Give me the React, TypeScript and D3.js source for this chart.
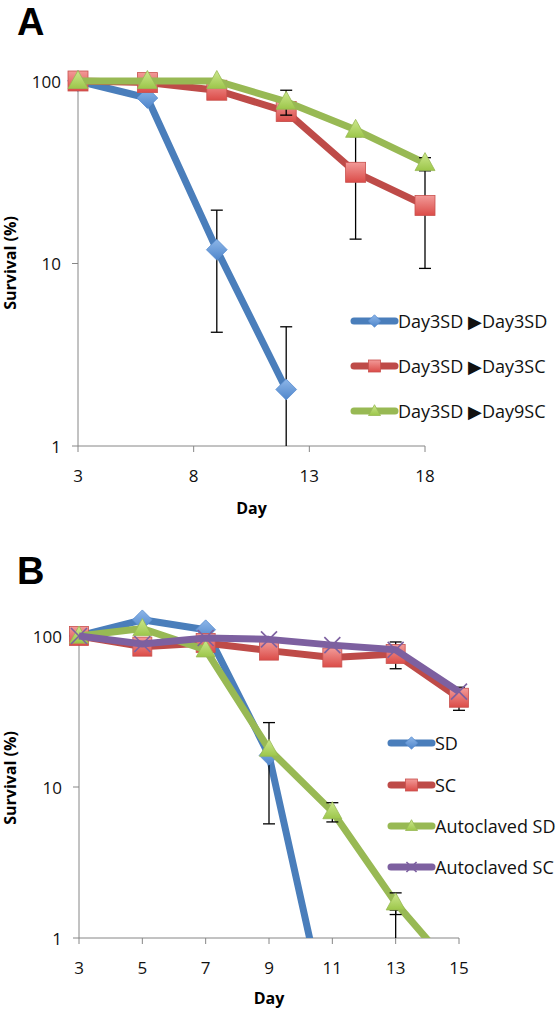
import React from 'react';
import * as d3 from 'd3';

// ---------- Data ----------
const daysA = [3, 6, 9, 12, 15, 18];
const namesA = ['Day3SD \u25B6Day3SD', 'Day3SD \u25B6Day3SC', 'Day3SD \u25B6Day9SC'];
const a_sd_sd = [100, 80.7, 11.9, 2.04];
const a_sd_sd_err = [0, 3, 7.7, 2.46];
const a_sd_3sc = [100, 98, 89, 68, 31.6, 20.8];
const a_sd_3sc_err = [0, 0, 0, 7.4, 18, 11.4];
const a_sd_9sc = [100, 100, 100, 77, 54, 35.5];
const a_sd_9sc_err = [0, 0, 0, 12, 0, 2.5];
const xTicksA = [3, 8, 13, 18];

const daysB = [3, 5, 7, 9, 11, 13, 15];
const namesB = ['SD', 'SC', 'Autoclaved SD', 'Autoclaved SC'];
const b_sd = [100, 128, 110, 16.2, 0.21, 0.05];
const b_sd_err = [0, 0, 0, 10.5, 0, 1.48];
const b_sc = [100, 85, 90, 80, 72, 76, 39];
const b_sc_err = [0, 0, 0, 0, 0, 15.3, 6.8];
const b_asd = [100, 112, 81, 17.8, 6.87, 1.71, 0.56];
const b_asd_err = [0, 0, 0, 0, 1, 0.28, 0];
const b_asc = [100, 88.5, 97, 95, 87, 81, 42.8];
const b_asc_err = [0, 0, 0, 0, 0, 0, 0];
const xTicksB = [3, 5, 7, 9, 11, 13, 15];

const yTicks = [1, 10, 100];

// ---------- Styles ----------
const FONT = "'Open Sans', sans-serif";
const LINE_BLUE = '#4A7EBB';
const LINE_RED = '#BE4B48';
const LINE_GREEN = '#98B954';
const LINE_PURPLE = '#7D60A0';
const AXIS = '#868686';

type MarkerKind = 'diamond' | 'square' | 'triangle' | 'x';
interface Series {
  name: string;
  values: number[];
  err: number[];
  color: string;
  marker: MarkerKind;
}

function Marker({ kind, cx, cy, s }: { kind: MarkerKind; cx: number; cy: number; s: number }) {
  if (kind === 'diamond') {
    const h = s * 0.52;
    return (
      <path
        d={`M${cx},${cy - h}L${cx + h},${cy}L${cx},${cy + h}L${cx - h},${cy}Z`}
        fill="url(#gBlue)"
        stroke="#5B8ED0"
        strokeWidth={0.8}
      />
    );
  }
  if (kind === 'square') {
    const h = s * 0.5;
    return (
      <rect x={cx - h} y={cy - h} width={2 * h} height={2 * h} fill="url(#gRed)" stroke="#C9514E" strokeWidth={0.8} />
    );
  }
  if (kind === 'triangle') {
    const h = s * 0.5;
    return (
      <path
        d={`M${cx},${cy - h * 1.05}L${cx + h},${cy + h * 0.75}L${cx - h},${cy + h * 0.75}Z`}
        fill="url(#gGreen)"
        stroke="#98B954"
        strokeWidth={0.8}
      />
    );
  }
  const h = s * 0.42;
  return (
    <g stroke="#7D60A0" strokeWidth={1.6}>
      <line x1={cx - h} y1={cy - h} x2={cx + h} y2={cy + h} />
      <line x1={cx - h} y1={cy + h} x2={cx + h} y2={cy - h} />
    </g>
  );
}

interface PanelProps {
  id: string;
  letter: string;
  letterY: number;
  days: number[];
  series: Series[];
  xDomain: [number, number];
  xRange: [number, number];
  yRange: [number, number];
  xTicks: number[];
  legendX: number;
  legendYs: number[];
  titleY: number;
  ylabelY: number;
  markerSize: number;
}

function Panel(p: PanelProps) {
  const x = d3.scaleLinear().domain(p.xDomain).range(p.xRange);
  const y = d3.scaleLog().domain([1, 100]).range(p.yRange);
  const axisY = p.yRange[0];
  const topY = p.yRange[1];
  const left = p.xRange[0];
  const right = p.xRange[1];
  const line = d3
    .line<[number, number]>()
    .x((d) => x(d[0]))
    .y((d) => y(Math.max(d[1], 0.001)));
  const clip = `clip-${p.id}`;
  return (
    <g>
      <defs>
        <clipPath id={clip}>
          <rect x={left - 30} y={topY - 40} width={right - left + 60} height={axisY - topY + 40} />
        </clipPath>
      </defs>
      <text x={17} y={p.letterY} fontFamily="'Liberation Sans', Arial, sans-serif" fontWeight="bold" fontSize={38}>
        {p.letter}
      </text>
      {/* axes */}
      <line x1={left} y1={topY} x2={left} y2={axisY} stroke={AXIS} strokeWidth={1} />
      <line x1={left} y1={axisY} x2={right} y2={axisY} stroke={AXIS} strokeWidth={1} />
      {yTicks.map((t) => (
        <g key={`y${t}`}>
          <line x1={left - 6} y1={y(t)} x2={left} y2={y(t)} stroke={AXIS} strokeWidth={1} />
          <text x={left - 17} y={y(t)} textAnchor="end" dominantBaseline="central" fontFamily={FONT} fontSize={17} fill="#111">
            {t}
          </text>
        </g>
      ))}
      {p.xTicks.map((t) => (
        <g key={`x${t}`}>
          <line x1={x(t)} y1={axisY} x2={x(t)} y2={axisY + 6} stroke={AXIS} strokeWidth={1} />
          <text x={x(t)} y={axisY + 29} textAnchor="middle" dominantBaseline="central" fontFamily={FONT} fontSize={17} fill="#111">
            {t}
          </text>
        </g>
      ))}
      <text x={(left + right) / 2} y={p.titleY} textAnchor="middle" fontFamily={FONT} fontWeight="bold" fontSize={16}>
        Day
      </text>
      <text
        transform={`translate(16,${p.ylabelY}) rotate(-90)`}
        textAnchor="middle"
        fontFamily={FONT}
        fontWeight="bold"
        fontSize={16}
      >
        Survival (%)
      </text>
      {/* series */}
      {p.series.map((s, si) => {
        const pts: [number, number][] = s.values.map((v, i) => [p.days[i], v]);
        return (
          <g key={si}>
            <path d={line(pts) || ''} fill="none" stroke={s.color} strokeWidth={7} strokeLinejoin="round" clipPath={`url(#${clip})`} />
            <g clipPath={`url(#${clip})`}>
              {pts.map(([d, v], i) =>
                s.err[i] > 0 ? (
                  <g key={i} stroke="#000" strokeWidth={1.3}>
                    <line x1={x(d)} x2={x(d)} y1={y(v + s.err[i])} y2={y(Math.max(v - s.err[i], 0.001))} />
                    <line x1={x(d) - 6} x2={x(d) + 6} y1={y(v + s.err[i])} y2={y(v + s.err[i])} />
                    {v - s.err[i] >= 1 && (
                      <line x1={x(d) - 6} x2={x(d) + 6} y1={y(v - s.err[i])} y2={y(v - s.err[i])} />
                    )}
                  </g>
                ) : null
              )}
            </g>
            {pts.map(([d, v], i) =>
              v >= 1 ? <Marker key={i} kind={s.marker} cx={x(d)} cy={y(v)} s={p.markerSize} /> : null
            )}
          </g>
        );
      })}
      {/* legend */}
      {p.series.map((s, si) => {
        const ly = p.legendYs[si];
        const lx = p.legendX;
        return (
          <g key={`l${si}`}>
            <line x1={lx + 3} x2={lx + 44} y1={ly} y2={ly} stroke={s.color} strokeWidth={7} strokeLinecap="round" />
            <Marker kind={s.marker} cx={lx + 23.5} cy={ly} s={12} />
            <text x={lx + 47} y={ly} dominantBaseline="central" fontFamily={FONT} fontSize={18} fill="#111">
              {s.name}
            </text>
          </g>
        );
      })}
    </g>
  );
}

export default function App() {
  const seriesA: Series[] = [
    { name: namesA[0], values: a_sd_sd, err: a_sd_sd_err, color: LINE_BLUE, marker: 'diamond' },
    { name: namesA[1], values: a_sd_3sc, err: a_sd_3sc_err, color: LINE_RED, marker: 'square' },
    { name: namesA[2], values: a_sd_9sc, err: a_sd_9sc_err, color: LINE_GREEN, marker: 'triangle' },
  ];
  const seriesB: Series[] = [
    { name: namesB[0], values: b_sd, err: b_sd_err, color: LINE_BLUE, marker: 'diamond' },
    { name: namesB[1], values: b_sc, err: b_sc_err, color: LINE_RED, marker: 'square' },
    { name: namesB[2], values: b_asd, err: b_asd_err, color: LINE_GREEN, marker: 'triangle' },
    { name: namesB[3], values: b_asc, err: b_asc_err, color: LINE_PURPLE, marker: 'x' },
  ];
  return (
    <svg width={558} height={1009} style={{ position: 'absolute', left: 0, top: 0, background: '#fff' }}>
      <defs>
        <linearGradient id="gBlue" x1="0" y1="0" x2="0" y2="1">
          <stop offset="0" stopColor="#8DB6E8" />
          <stop offset="1" stopColor="#4F86CB" />
        </linearGradient>
        <linearGradient id="gRed" x1="0" y1="0" x2="0" y2="1">
          <stop offset="0" stopColor="#F29A98" />
          <stop offset="1" stopColor="#DB4C48" />
        </linearGradient>
        <linearGradient id="gGreen" x1="0" y1="0" x2="0" y2="1">
          <stop offset="0" stopColor="#CDE88E" />
          <stop offset="1" stopColor="#9CC64A" />
        </linearGradient>
      </defs>
      <rect width={558} height={1009} fill="#fff" />
      <Panel
        id="a"
        letter="A"
        letterY={35}
        days={daysA}
        series={seriesA}
        xDomain={[3, 18]}
        xRange={[78, 425]}
        yRange={[446, 81]}
        xTicks={xTicksA}
        legendX={351}
        legendYs={[321, 366, 411]}
        titleY={514}
        ylabelY={263}
        markerSize={20}
      />
      <Panel
        id="b"
        letter="B"
        letterY={584}
        days={daysB}
        series={seriesB}
        xDomain={[3, 15]}
        xRange={[79, 459]}
        yRange={[938, 636]}
        xTicks={xTicksB}
        legendX={388}
        legendYs={[743, 785, 826, 867]}
        titleY={1004}
        ylabelY={778}
        markerSize={19}
      />
    </svg>
  );
}
